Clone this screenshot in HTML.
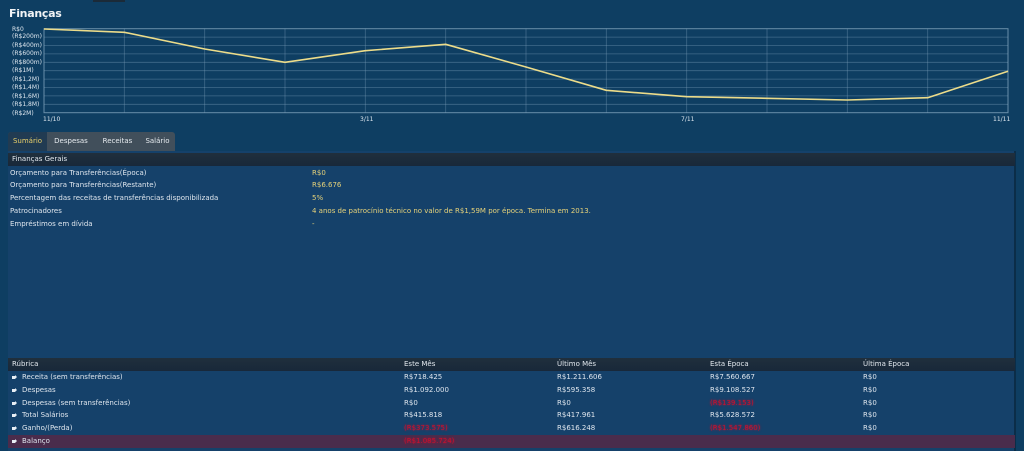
<!DOCTYPE html>
<html><head><meta charset="utf-8">
<style>
*{margin:0;padding:0;box-sizing:border-box}
html,body{width:1024px;height:451px;overflow:hidden;background:#0e3e62;font-family:"DejaVu Sans","Liberation Sans",sans-serif;color:#dfe6ee}
.abs{position:absolute;white-space:nowrap}
#title{left:9px;top:7px;font-size:11px;font-weight:bold;color:#f2f4f6;letter-spacing:-0.3px}
.yl{position:absolute;left:12px;font-size:6px;color:#dde6ee;line-height:6px}
.xl{position:absolute;top:116px;font-size:6px;color:#dde6ee}
#tabs{left:8px;top:132px;width:167px;height:19px;background:#414f5b;border-radius:3px 3px 0 0}
.tab{position:absolute;top:0;height:19px;line-height:19px;font-size:7px;color:#e6ebef;text-align:center}
#panel{left:8px;top:151px;width:1008px;height:300px;background:#15416a;border-right:2px solid #0b2d48}
.hdr{position:absolute;left:8px;width:1007px;height:13px;background:linear-gradient(#202f3c,#18283a);font-size:7px;line-height:13px;color:#e2e8ee}
.row{position:absolute;left:8px;width:1007px;height:12.8px;font-size:7px;line-height:12.8px}
.row span,.hdr span{position:absolute;top:0}
.v{color:#e6d27a}
.r{color:#c8102e;text-shadow:0 0 2px #c8102e}
.bul{display:inline-block;position:absolute;top:5px;width:3px;height:3px;background:#e8eef4}
.bul:after{content:"";position:absolute;left:3px;top:-1px;border-left:2px solid #e8eef4;border-top:2.5px solid transparent;border-bottom:2.5px solid transparent}
</style></head><body>
<div class="abs" style="left:93px;top:0;width:32px;height:2px;background:#1b2a38"></div>
<div id="title" class="abs">Finanças</div>

<svg class="abs" style="left:0;top:0" width="1024" height="125">
  <g stroke="#7f9fba" stroke-opacity="0.45" stroke-width="0.8">
    <line x1="44" y1="37.1" x2="1008" y2="37.1"/>
    <line x1="44" y1="45.5" x2="1008" y2="45.5"/>
    <line x1="44" y1="53.9" x2="1008" y2="53.9"/>
    <line x1="44" y1="62.3" x2="1008" y2="62.3"/>
    <line x1="44" y1="70.7" x2="1008" y2="70.7"/>
    <line x1="44" y1="79.1" x2="1008" y2="79.1"/>
    <line x1="44" y1="87.5" x2="1008" y2="87.5"/>
    <line x1="44" y1="95.9" x2="1008" y2="95.9"/>
    <line x1="44" y1="104.3" x2="1008" y2="104.3"/>
    <line x1="124.3" y1="28.7" x2="124.3" y2="112.7"/>
    <line x1="204.7" y1="28.7" x2="204.7" y2="112.7"/>
    <line x1="285" y1="28.7" x2="285" y2="112.7"/>
    <line x1="365.3" y1="28.7" x2="365.3" y2="112.7"/>
    <line x1="445.7" y1="28.7" x2="445.7" y2="112.7"/>
    <line x1="526" y1="28.7" x2="526" y2="112.7"/>
    <line x1="606.3" y1="28.7" x2="606.3" y2="112.7"/>
    <line x1="686.7" y1="28.7" x2="686.7" y2="112.7"/>
    <line x1="767" y1="28.7" x2="767" y2="112.7"/>
    <line x1="847.3" y1="28.7" x2="847.3" y2="112.7"/>
    <line x1="927.7" y1="28.7" x2="927.7" y2="112.7"/>
  </g>
  <rect x="44" y="28.7" width="964" height="84" fill="none" stroke="#8fb0c8" stroke-opacity="0.7" stroke-width="1"/>
  <polyline fill="none" stroke="#ecdc8a" stroke-width="1.6" stroke-linejoin="round"
    points="44,29 124.3,32.3 204.7,49 285,62.3 365.3,50.7 445.7,44.3 526,67 606.3,90.3 686.7,96.7 767,98.3 847.3,100 927.7,97.7 1008,71.3"/>
</svg>

<div class="yl" style="top:26.5px">R$0</div>
<div class="yl" style="top:34px">(R$200m)</div>
<div class="yl" style="top:42.5px">(R$400m)</div>
<div class="yl" style="top:51px">(R$600m)</div>
<div class="yl" style="top:59.5px">(R$800m)</div>
<div class="yl" style="top:68px">(R$1M)</div>
<div class="yl" style="top:76.5px">(R$1,2M)</div>
<div class="yl" style="top:85px">(R$1,4M)</div>
<div class="yl" style="top:93.5px">(R$1,6M)</div>
<div class="yl" style="top:102px">(R$1,8M)</div>
<div class="yl" style="top:110.5px">(R$2M)</div>
<div class="xl" style="left:43px">11/10</div>
<div class="xl" style="left:360px">3/11</div>
<div class="xl" style="left:681px">7/11</div>
<div class="xl" style="left:993px">11/11</div>

<div id="tabs" class="abs">
  <div class="tab" style="left:0;width:39px;background:#213b52;color:#e8cf6a;border-radius:3px 0 0 0">Sumário</div>
  <div class="tab" style="left:39px;width:48px">Despesas</div>
  <div class="tab" style="left:87px;width:45px">Receitas</div>
  <div class="tab" style="left:132px;width:35px">Salário</div>
</div>

<div id="panel" class="abs"></div>

<div class="hdr" style="top:153px"><span style="left:4px">Finanças Gerais</span></div>
<div class="row" style="top:166.5px"><span style="left:2px">Orçamento para Transferências(Época)</span><span class="v" style="left:304px">R$0</span></div>
<div class="row" style="top:179.3px"><span style="left:2px">Orçamento para Transferências(Restante)</span><span class="v" style="left:304px">R$6.676</span></div>
<div class="row" style="top:192.1px"><span style="left:2px">Percentagem das receitas de transferências disponibilizada</span><span class="v" style="left:304px">5%</span></div>
<div class="row" style="top:204.9px"><span style="left:2px">Patrocinadores</span><span class="v" style="left:304px">4 anos de patrocínio técnico no valor de R$1,59M por época. Termina em 2013.</span></div>
<div class="row" style="top:217.7px"><span style="left:2px">Empréstimos em dívida</span><span class="v" style="left:304px">-</span></div>

<div class="hdr" style="top:358px"><span style="left:4px">Rúbrica</span><span style="left:396px">Este Mês</span><span style="left:549px">Último Mês</span><span style="left:702px">Esta Época</span><span style="left:855px">Última Época</span></div>
<div class="row" style="top:371px"><i class="bul" style="left:4px"></i><span style="left:14px">Receita (sem transferências)</span><span style="left:396px">R$718.425</span><span style="left:549px">R$1.211.606</span><span style="left:702px">R$7.560.667</span><span style="left:855px">R$0</span></div>
<div class="row" style="top:383.8px"><i class="bul" style="left:4px"></i><span style="left:14px">Despesas</span><span style="left:396px">R$1.092.000</span><span style="left:549px">R$595.358</span><span style="left:702px">R$9.108.527</span><span style="left:855px">R$0</span></div>
<div class="row" style="top:396.6px"><i class="bul" style="left:4px"></i><span style="left:14px">Despesas (sem transferências)</span><span style="left:396px">R$0</span><span style="left:549px">R$0</span><span class="r" style="left:702px">(R$139.153)</span><span style="left:855px">R$0</span></div>
<div class="row" style="top:409.4px"><i class="bul" style="left:4px"></i><span style="left:14px">Total Salários</span><span style="left:396px">R$415.818</span><span style="left:549px">R$417.961</span><span style="left:702px">R$5.628.572</span><span style="left:855px">R$0</span></div>
<div class="row" style="top:422.2px"><i class="bul" style="left:4px"></i><span style="left:14px">Ganho/(Perda)</span><span class="r" style="left:396px">(R$373.575)</span><span style="left:549px">R$616.248</span><span class="r" style="left:702px">(R$1.547.860)</span><span style="left:855px">R$0</span></div>
<div class="row" style="top:435px;background:#4a2c4c"><i class="bul" style="left:4px"></i><span style="left:14px">Balanço</span><span class="r" style="left:396px">(R$1.085.724)</span></div>
</body></html>
